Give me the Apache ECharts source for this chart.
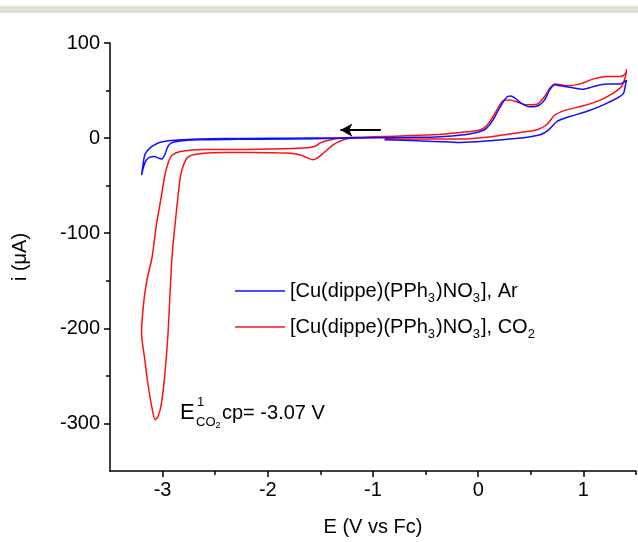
<!DOCTYPE html>
<html>
<head>
<meta charset="utf-8">
<script src="https://cdn.jsdelivr.net/npm/echarts@6/dist/echarts.min.js"></script>
<style>
  html, body { margin: 0; padding: 0; background: #fff; }
</style>
</head>
<body>
<div id="cvChart" style="width: 638px;height: 542px;"></div>
<script>
// Ar curve (potential in V vs Fc, current in uA), in scan order
const arPotential = [-0.90, -1.20, -1.60, -2.00, -2.40, -2.65, -2.80, -2.93, -3.03, -3.09, -3.12, -3.15, -3.17, -3.185, -3.20,
  -3.18, -3.155, -3.12, -3.08, -3.04, -3.01, -2.98, -2.95, -2.92, -2.85, -2.65, -2.30, -1.80, -1.30, -0.90, -0.60, -0.40, -0.25, -0.10,
  0.02, 0.08, 0.14, 0.21, 0.27, 0.31, 0.35, 0.41, 0.49, 0.57, 0.63, 0.68, 0.73, 0.78, 0.87, 1.00, 1.09, 1.22, 1.35, 1.38, 1.41,
  1.40, 1.38, 1.32, 1.19, 1.03, 0.87, 0.75, 0.67, 0.59, 0.40, 0.14, -0.17, -0.27, -0.58, -0.89];
const arCurrent = [0.5, 0.3, 0.1, -0.2, -0.5, -0.9, -1.6, -2.6, -4.6, -8, -10.5, -14, -18, -27, -39,
  -30, -23, -20, -19.3, -21, -22, -17.5, -9, -5.3, -3.2, -1.8, -1.3, -0.9, -0.2, 0.3, 0.8, 1.2, 2.2, 4,
  7, 10.5, 19, 33, 43, 44.4, 42, 36.7, 33, 34, 40, 50.7, 56, 55, 53.5, 51.4, 54, 57, 57, 58.4, 61,
  56, 47, 42, 35, 28, 22.7, 17.5, 8.7, 3.5, 0, -2.5, -4.6, -4.2, -2.8, -1.8];

// CO2 curve
const co2Potential = [-0.90, -1.06, -1.20, -1.28, -1.38, -1.47, -1.53, -1.57, -1.63, -1.70, -1.82, -2.14, -2.45, -2.68, -2.76, -2.80,
  -2.83, -2.85, -2.88, -2.91, -2.93, -2.95, -2.98, -3.01, -3.04, -3.07, -3.10, -3.14, -3.17, -3.20,
  -3.18, -3.15, -3.10, -3.06, -3.01, -2.98, -2.95, -2.91, -2.83, -2.61, -2.45, -1.98, -1.66, -1.55, -1.50, -1.43, -1.30, -1.10, -0.90,
  -0.43, -0.17, 0.02, 0.10, 0.18, 0.24, 0.30, 0.38, 0.46, 0.56, 0.63, 0.68, 0.73, 0.84, 0.97, 1.09, 1.22, 1.35, 1.40, 1.41,
  1.40, 1.36, 1.28, 1.16, 1.00, 0.84, 0.73, 0.65, 0.56, 0.40, 0.14, -0.17, -0.58, -0.89];
const co2Current = [1.0, 1.0, 0, -1.8, -7, -15.7, -21, -22.8, -20.5, -17.5, -15.7, -15, -15.2, -17, -20, -28,
  -40, -57.7, -89, -124, -165, -208, -250, -278, -292, -296, -284, -258, -232, -205,
  -173, -150, -125, -92, -60, -40, -27, -18, -14, -12, -12, -11.5, -10.5, -8.5, -5, -2.5, 0, 1, 1.8,
  3.5, 5.9, 8.7, 15.7, 30, 39.5, 40, 37.4, 35, 35.7, 43.7, 52.5, 57, 55, 57, 62, 64.7, 64.7, 68, 72.4,
  64.7, 54, 47, 40, 34, 29.7, 24.4, 14, 8.7, 5.9, 1.7, -1, -1, -0.7];

// ticks
const xMajorTicks = [-3, -2, -1, 0, 1];
const xMinorTicks = [-2.5, -1.5, -0.5, 0.5, 1.5];
const yMajorTicks = [-300, -200, -100, 0, 100];
const yMinorTicks = [-250, -150, -50, 50];

// scan direction arrow (tail, head)
const arrowStart = [-0.925, 8.4];
const arrowEnd = [-1.31, 8.4];

const seriesNames = ['[Cu(dippe)(PPh3)NO3], Ar', '[Cu(dippe)(PPh3)NO3], CO2'];

function pairs(xs, ys) {
  return xs.map(function (x, i) { return [x, ys[i]]; });
}

const font = 'Liberation Sans, Arial, sans-serif';
const tickLine = {color: '#000', width: 1.5};

let option = {
  animation: false,
  backgroundColor: '#fff',
  grid: {left: 110, right: 2, top: 43, bottom: 70},
  xAxis: [
    {
      type: 'value',
      min: -3.5, max: 1.5,
      name: 'E (V vs Fc)',
      nameLocation: 'middle',
      nameGap: 46,
      nameTextStyle: {fontFamily: font, fontSize: 20, color: '#000'},
      splitLine: {show: false},
      axisLine: {onZero: false, lineStyle: {color: '#000', width: 1.5}},
      axisTick: {length: 6, customValues: xMajorTicks, lineStyle: tickLine},
      axisLabel: {customValues: xMajorTicks, fontFamily: font, fontSize: 20, color: '#000', margin: 9},
    },
    {
      type: 'value',
      min: -3.5, max: 1.5,
      position: 'bottom',
      splitLine: {show: false},
      axisLine: {show: false, onZero: false},
      axisTick: {length: 4, customValues: xMinorTicks, lineStyle: tickLine},
      axisLabel: {show: false},
    },
  ],
  yAxis: [
    {
      type: 'value',
      min: -350, max: 100,
      name: 'i (\u03BCA)',
      nameLocation: 'middle',
      nameGap: 80,
      nameRotate: 90,
      nameTextStyle: {fontFamily: font, fontSize: 20, color: '#000'},
      splitLine: {show: false},
      axisLine: {onZero: false, lineStyle: {color: '#000', width: 1.5}},
      axisTick: {length: 6, customValues: yMajorTicks, lineStyle: tickLine},
      axisLabel: {customValues: yMajorTicks, fontFamily: font, fontSize: 20, color: '#000', margin: 10},
    },
    {
      type: 'value',
      min: -350, max: 100,
      position: 'left',
      splitLine: {show: false},
      axisLine: {show: false, onZero: false},
      axisTick: {length: 4, customValues: yMinorTicks, lineStyle: tickLine},
      axisLabel: {show: false},
    },
  ],
  legend: {
    orient: 'vertical',
    left: 230,
    top: 272,
    icon: 'rect',
    itemWidth: 50,
    itemHeight: 1.5,
    itemGap: 8,
    data: seriesNames,
    formatter: function (name) {
      return name.replace('PPh3', 'PPh{s|3}').replace('NO3]', 'NO{s|3}]').replace('CO2', 'CO{s|2}');
    },
    textStyle: {
      fontFamily: font, fontSize: 20, color: '#000', lineHeight: 28,
      rich: {
        s: {fontFamily: font, fontSize: 13, color: '#000', lineHeight: 13, verticalAlign: 'bottom', padding: [0, 1, 0, 0]}
      }
    },
  },
  series: [
    {
      name: seriesNames[0],
      type: 'line',
      data: pairs(arPotential, arCurrent),
      symbol: 'none',
      smooth: 0.3,
      color: '#1010ff',
      lineStyle: {color: '#1010ff', width: 1.5},
      z: 3,
    },
    {
      name: seriesNames[1],
      type: 'line',
      data: pairs(co2Potential, co2Current),
      symbol: 'none',
      smooth: 0.3,
      color: '#ff1010',
      lineStyle: {color: '#ff1010', width: 1.5},
      z: 2,
      markLine: {
        silent: true,
        symbol: ['none', 'arrow'],
        symbolSize: [10, 12],
        label: {show: false},
        lineStyle: {color: '#000', width: 2, type: 'solid'},
        data: [[{coord: arrowStart}, {coord: arrowEnd}]],
      },
    },
  ],
  graphic: [
    {type: 'rect', left: 0, top: 6, shape: {width: 638, height: 7}, style: {fill: '#e2dfd3'}, silent: true},
    {type: 'text', left: 180, top: 402, style: {text: 'E', fontFamily: font, fontSize: 22, fill: '#000'}},
    {type: 'text', left: 197, top: 396, style: {text: '1', fontFamily: font, fontSize: 13, fill: '#000'}},
    {type: 'text', left: 196, top: 416, style: {text: 'CO{s|2}', fontFamily: font, fontSize: 13, fill: '#000',
      rich: {s: {fontFamily: font, fontSize: 9, fill: '#000', padding: [6, 0, 0, 0]}}}},
    {type: 'text', left: 222, top: 403, style: {text: 'cp= -3.07 V', fontFamily: font, fontSize: 20, fill: '#000'}},
  ],
};

let cvChart = echarts.init(document.getElementById('cvChart'), null, {width: 638, height: 542});
cvChart.setOption(option);
</script>
</body>
</html>
